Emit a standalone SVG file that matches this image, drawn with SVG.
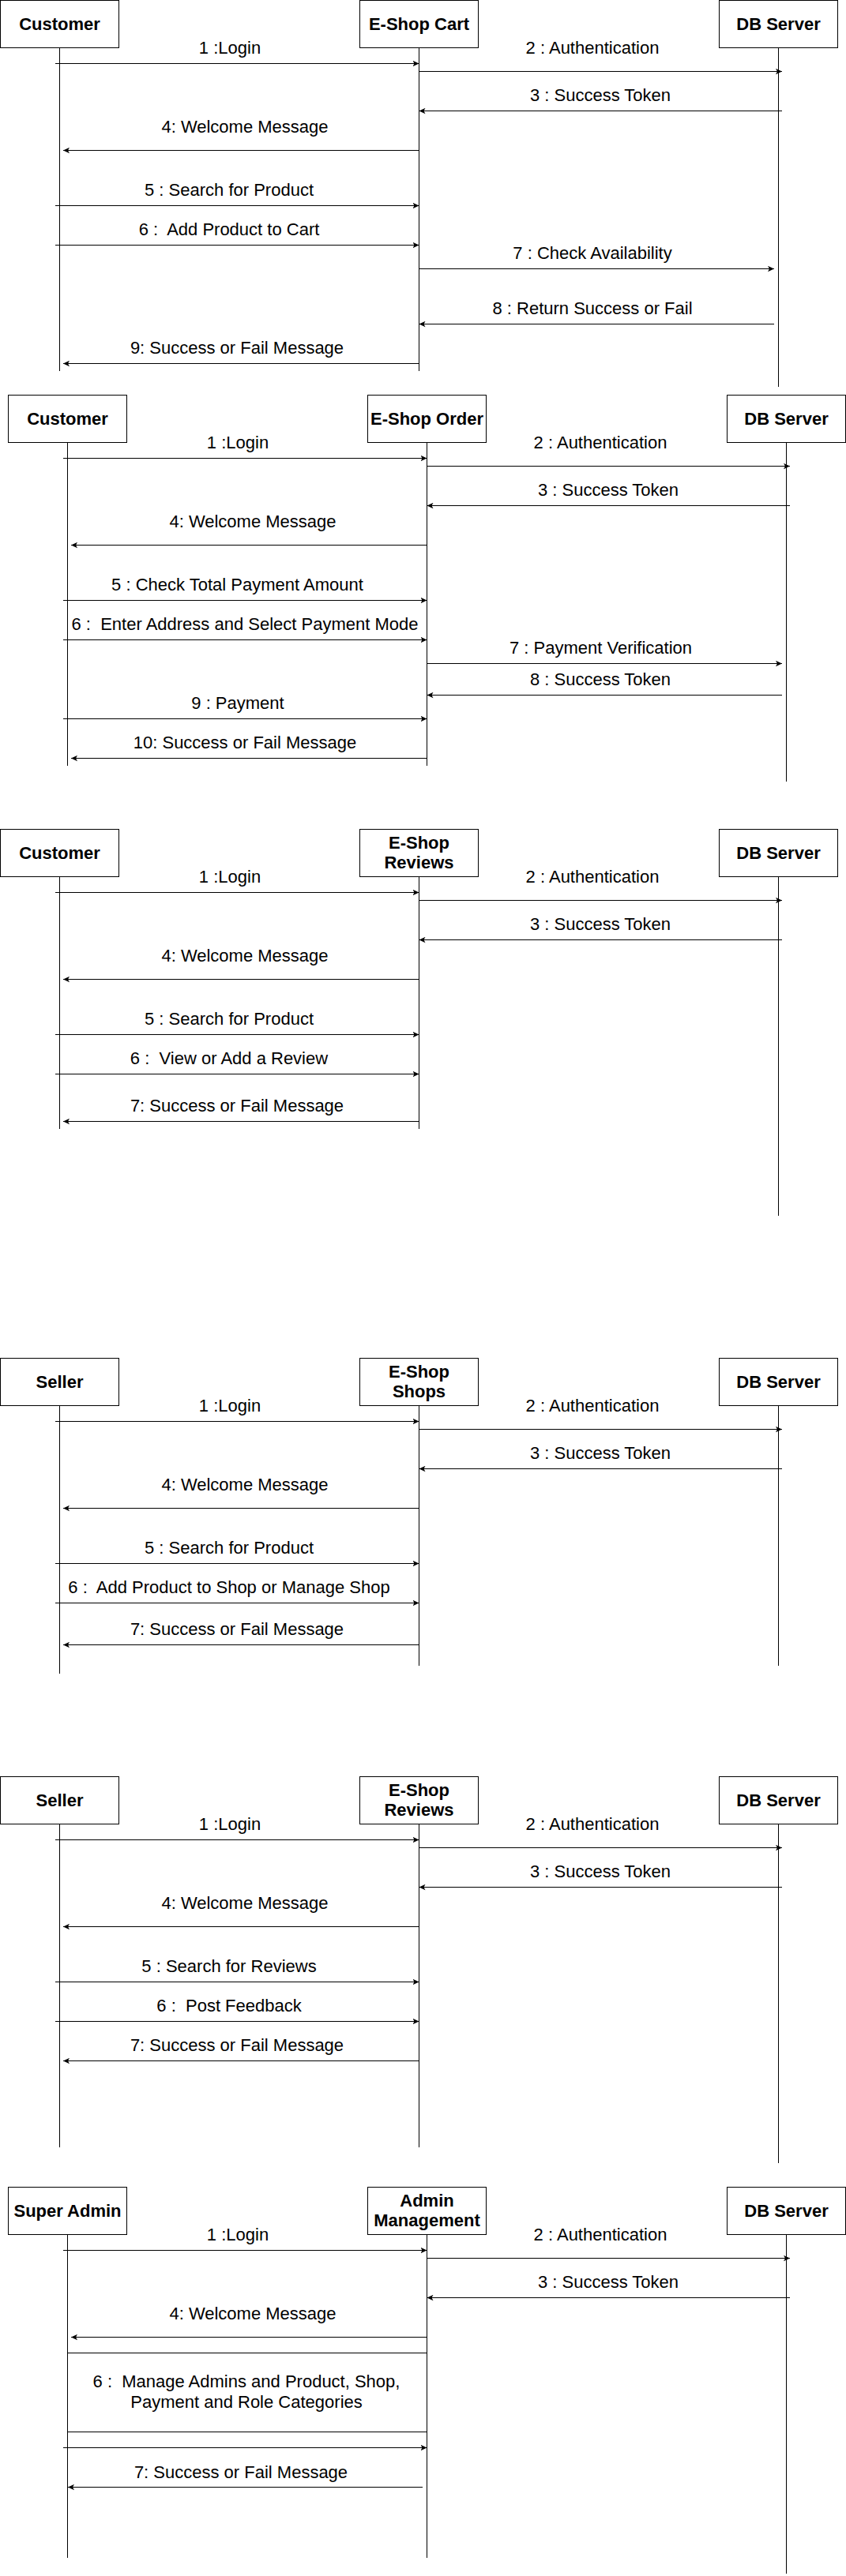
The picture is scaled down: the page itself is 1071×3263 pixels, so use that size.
<svg xmlns="http://www.w3.org/2000/svg" width="1071" height="3263" viewBox="0 0 1071 3263">
<style>
.box{fill:#fff;stroke:#000;stroke-width:1}
.life{stroke:#000;stroke-width:1;fill:none}
.msg{stroke:#000;stroke-width:1;fill:none;marker-end:url(#ah)}
.sep{stroke:#000;stroke-width:1;fill:none}
text{font-family:"Liberation Sans",Arial,sans-serif;font-size:22px;fill:#000;text-anchor:middle}
.hd{font-weight:bold}
</style>
<defs>
<marker id="ah" viewBox="0 0 8 8" refX="8" refY="4" markerWidth="8" markerHeight="8" markerUnits="userSpaceOnUse" orient="auto">
<path d="M0,0.3 L8,4 L0,7.7 L2,4 Z" fill="#000"/>
</marker>
</defs>
<rect width="1071" height="3263" fill="#fff"/>

<!-- Diagram 1 -->
<g id="d1">
<g id="d1-customer"><rect class="box" x="0.5" y="0.5" width="150" height="60"/><text class="hd" x="75.5" y="38">Customer</text><line class="life" x1="75.5" y1="60.5" x2="75.5" y2="470"/></g>
<g id="d1-cart"><rect class="box" x="455.5" y="0.5" width="150" height="60"/><text class="hd" x="530.5" y="38">E-Shop Cart</text><line class="life" x1="530.5" y1="60.5" x2="530.5" y2="470"/></g>
<g id="d1-db"><rect class="box" x="910.5" y="0.5" width="150" height="60"/><text class="hd" x="985.5" y="38">DB Server</text><line class="life" x1="985.5" y1="60.5" x2="985.5" y2="490"/></g>
<g id="d1-connectors">
<line class="msg" x1="70" y1="80.5" x2="530.5" y2="80.5"/><text x="291" y="68">1 :Login</text>
<line class="msg" x1="530.5" y1="90.5" x2="990" y2="90.5"/><text x="750" y="68">2 : Authentication</text>
<line class="msg" x1="990" y1="140.5" x2="530.5" y2="140.5"/><text x="760" y="128">3 : Success Token</text>
<line class="msg" x1="530.5" y1="190.5" x2="80" y2="190.5"/><text x="310" y="167.5">4: Welcome Message</text>
<line class="msg" x1="70" y1="260.5" x2="530.5" y2="260.5"/><text x="290" y="248">5 : Search for Product</text>
<line class="msg" x1="70" y1="310.5" x2="530.5" y2="310.5"/><text x="290" y="298" xml:space="preserve">6 :  Add Product to Cart</text>
<line class="msg" x1="530.5" y1="340.5" x2="980" y2="340.5"/><text x="750" y="328">7 : Check Availability</text>
<line class="msg" x1="980" y1="410.5" x2="530.5" y2="410.5"/><text x="750" y="398">8 : Return Success or Fail</text>
<line class="msg" x1="530.5" y1="460.5" x2="80" y2="460.5"/><text x="300" y="448">9: Success or Fail Message</text>
</g>
</g>

<!-- Diagram 2 -->
<g id="d2">
<g id="d2-customer"><rect class="box" x="10.5" y="500.5" width="150" height="60"/><text class="hd" x="85.5" y="538">Customer</text><line class="life" x1="85.5" y1="560.5" x2="85.5" y2="970"/></g>
<g id="d2-order"><rect class="box" x="465.5" y="500.5" width="150" height="60"/><text class="hd" x="540.5" y="538">E-Shop Order</text><line class="life" x1="540.5" y1="560.5" x2="540.5" y2="970"/></g>
<g id="d2-db"><rect class="box" x="920.5" y="500.5" width="150" height="60"/><text class="hd" x="995.5" y="538">DB Server</text><line class="life" x1="995.5" y1="560.5" x2="995.5" y2="990"/></g>
<g id="d2-connectors">
<line class="msg" x1="80" y1="580.5" x2="540.5" y2="580.5"/><text x="301" y="568">1 :Login</text>
<line class="msg" x1="540.5" y1="590.5" x2="1000" y2="590.5"/><text x="760" y="568">2 : Authentication</text>
<line class="msg" x1="1000" y1="640.5" x2="540.5" y2="640.5"/><text x="770" y="628">3 : Success Token</text>
<line class="msg" x1="540.5" y1="690.5" x2="90" y2="690.5"/><text x="320" y="667.5">4: Welcome Message</text>
<line class="msg" x1="80" y1="760.5" x2="540.5" y2="760.5"/><text x="300.5" y="748">5 : Check Total Payment Amount</text>
<line class="msg" x1="80" y1="810.5" x2="540.5" y2="810.5"/><text x="310" y="798" xml:space="preserve">6 :  Enter Address and Select Payment Mode</text>
<line class="msg" x1="540.5" y1="840.5" x2="990" y2="840.5"/><text x="760.5" y="828">7 : Payment Verification</text>
<line class="msg" x1="990" y1="880.5" x2="540.5" y2="880.5"/><text x="760" y="868">8 : Success Token</text>
<line class="msg" x1="80" y1="910.5" x2="540.5" y2="910.5"/><text x="301" y="898">9 : Payment</text>
<line class="msg" x1="540.5" y1="960.5" x2="90" y2="960.5"/><text x="310" y="948">10: Success or Fail Message</text>
</g>
</g>

<!-- Diagram 3 -->
<g id="d3">
<g id="d3-customer"><rect class="box" x="0.5" y="1050.5" width="150" height="60"/><text class="hd" x="75.5" y="1088">Customer</text><line class="life" x1="75.5" y1="1110.5" x2="75.5" y2="1430"/></g>
<g id="d3-reviews"><rect class="box" x="455.5" y="1050.5" width="150" height="60"/><text class="hd" x="530.5" y="1074.5">E-Shop</text><text class="hd" x="530.5" y="1100">Reviews</text><line class="life" x1="530.5" y1="1110.5" x2="530.5" y2="1430"/></g>
<g id="d3-db"><rect class="box" x="910.5" y="1050.5" width="150" height="60"/><text class="hd" x="985.5" y="1088">DB Server</text><line class="life" x1="985.5" y1="1110.5" x2="985.5" y2="1540"/></g>
<g id="d3-connectors">
<line class="msg" x1="70" y1="1130.5" x2="530.5" y2="1130.5"/><text x="291" y="1118">1 :Login</text>
<line class="msg" x1="530.5" y1="1140.5" x2="990" y2="1140.5"/><text x="750" y="1118">2 : Authentication</text>
<line class="msg" x1="990" y1="1190.5" x2="530.5" y2="1190.5"/><text x="760" y="1178">3 : Success Token</text>
<line class="msg" x1="530.5" y1="1240.5" x2="80" y2="1240.5"/><text x="310" y="1217.5">4: Welcome Message</text>
<line class="msg" x1="70" y1="1310.5" x2="530.5" y2="1310.5"/><text x="290" y="1298">5 : Search for Product</text>
<line class="msg" x1="70" y1="1360.5" x2="530.5" y2="1360.5"/><text x="290" y="1348" xml:space="preserve">6 :  View or Add a Review</text>
<line class="msg" x1="530.5" y1="1420.5" x2="80" y2="1420.5"/><text x="300" y="1408">7: Success or Fail Message</text>
</g>
</g>

<!-- Diagram 4 -->
<g id="d4">
<g id="d4-seller"><rect class="box" x="0.5" y="1720.5" width="150" height="60"/><text class="hd" x="75.5" y="1758">Seller</text><line class="life" x1="75.5" y1="1780.5" x2="75.5" y2="2120"/></g>
<g id="d4-shops"><rect class="box" x="455.5" y="1720.5" width="150" height="60"/><text class="hd" x="530.5" y="1744.5">E-Shop</text><text class="hd" x="530.5" y="1770">Shops</text><line class="life" x1="530.5" y1="1780.5" x2="530.5" y2="2110"/></g>
<g id="d4-db"><rect class="box" x="910.5" y="1720.5" width="150" height="60"/><text class="hd" x="985.5" y="1758">DB Server</text><line class="life" x1="985.5" y1="1780.5" x2="985.5" y2="2110"/></g>
<g id="d4-connectors">
<line class="msg" x1="70" y1="1800.5" x2="530.5" y2="1800.5"/><text x="291" y="1788">1 :Login</text>
<line class="msg" x1="530.5" y1="1810.5" x2="990" y2="1810.5"/><text x="750" y="1788">2 : Authentication</text>
<line class="msg" x1="990" y1="1860.5" x2="530.5" y2="1860.5"/><text x="760" y="1848">3 : Success Token</text>
<line class="msg" x1="530.5" y1="1910.5" x2="80" y2="1910.5"/><text x="310" y="1887.5">4: Welcome Message</text>
<line class="msg" x1="70" y1="1980.5" x2="530.5" y2="1980.5"/><text x="290" y="1968">5 : Search for Product</text>
<line class="msg" x1="70" y1="2030.5" x2="530.5" y2="2030.5"/><text x="290" y="2018" xml:space="preserve">6 :  Add Product to Shop or Manage Shop</text>
<line class="msg" x1="530.5" y1="2083.5" x2="80" y2="2083.5"/><text x="300" y="2071">7: Success or Fail Message</text>
</g>
</g>

<!-- Diagram 5 -->
<g id="d5">
<g id="d5-seller"><rect class="box" x="0.5" y="2250.5" width="150" height="60"/><text class="hd" x="75.5" y="2288">Seller</text><line class="life" x1="75.5" y1="2310.5" x2="75.5" y2="2720"/></g>
<g id="d5-reviews"><rect class="box" x="455.5" y="2250.5" width="150" height="60"/><text class="hd" x="530.5" y="2274.5">E-Shop</text><text class="hd" x="530.5" y="2300">Reviews</text><line class="life" x1="530.5" y1="2310.5" x2="530.5" y2="2720"/></g>
<g id="d5-db"><rect class="box" x="910.5" y="2250.5" width="150" height="60"/><text class="hd" x="985.5" y="2288">DB Server</text><line class="life" x1="985.5" y1="2310.5" x2="985.5" y2="2740"/></g>
<g id="d5-connectors">
<line class="msg" x1="70" y1="2330.5" x2="530.5" y2="2330.5"/><text x="291" y="2318">1 :Login</text>
<line class="msg" x1="530.5" y1="2340.5" x2="990" y2="2340.5"/><text x="750" y="2318">2 : Authentication</text>
<line class="msg" x1="990" y1="2390.5" x2="530.5" y2="2390.5"/><text x="760" y="2378">3 : Success Token</text>
<line class="msg" x1="530.5" y1="2440.5" x2="80" y2="2440.5"/><text x="310" y="2417.5">4: Welcome Message</text>
<line class="msg" x1="70" y1="2510.5" x2="530.5" y2="2510.5"/><text x="290" y="2498">5 : Search for Reviews</text>
<line class="msg" x1="70" y1="2560.5" x2="530.5" y2="2560.5"/><text x="290" y="2548" xml:space="preserve">6 :  Post Feedback</text>
<line class="msg" x1="530.5" y1="2610.5" x2="80" y2="2610.5"/><text x="300" y="2598">7: Success or Fail Message</text>
</g>
</g>

<!-- Diagram 6 -->
<g id="d6">
<g id="d6-superadmin"><rect class="box" x="10.5" y="2770.5" width="150" height="60"/><text class="hd" x="85.5" y="2808">Super Admin</text><line class="life" x1="85.5" y1="2830.5" x2="85.5" y2="3240"/></g>
<g id="d6-adminmgmt"><rect class="box" x="465.5" y="2770.5" width="150" height="60"/><text class="hd" x="540.5" y="2794.5">Admin</text><text class="hd" x="540.5" y="2820">Management</text><line class="life" x1="540.5" y1="2830.5" x2="540.5" y2="3240"/></g>
<g id="d6-db"><rect class="box" x="920.5" y="2770.5" width="150" height="60"/><text class="hd" x="995.5" y="2808">DB Server</text><line class="life" x1="995.5" y1="2830.5" x2="995.5" y2="3260"/></g>
<g id="d6-connectors">
<line class="msg" x1="80" y1="2850.5" x2="540.5" y2="2850.5"/><text x="301" y="2838">1 :Login</text>
<line class="msg" x1="540.5" y1="2860.5" x2="1000" y2="2860.5"/><text x="760" y="2838">2 : Authentication</text>
<line class="msg" x1="1000" y1="2910.5" x2="540.5" y2="2910.5"/><text x="770" y="2898">3 : Success Token</text>
<line class="msg" x1="540.5" y1="2960.5" x2="90" y2="2960.5"/><text x="320" y="2937.5">4: Welcome Message</text>
<line class="sep" x1="85.5" y1="2980.5" x2="540.5" y2="2980.5"/>
<text x="312" y="3024" xml:space="preserve">6 :  Manage Admins and Product, Shop,</text>
<text x="312" y="3050">Payment and Role Categories</text>
<line class="sep" x1="85.5" y1="3080.5" x2="540.5" y2="3080.5"/>
<line class="msg" x1="80" y1="3100.5" x2="540.5" y2="3100.5"/>
<line class="msg" x1="535" y1="3150.5" x2="86" y2="3150.5"/><text x="305" y="3138.5">7: Success or Fail Message</text>
</g>
</g>
</svg>
